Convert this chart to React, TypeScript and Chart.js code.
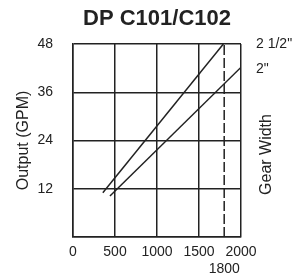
import { useEffect, useRef } from 'react';
import { Chart, registerables } from 'chart.js';

Chart.register(...registerables);

const TITLE = 'DP C101/C102';
const Y_TITLE = 'Output (GPM)';
const RIGHT_TITLE = 'Gear Width';

const xTicks = [0, 500, 1000, 1500, 2000];
const yTicks = [0, 12, 24, 36, 48];

const gearLabels = ['2 1/2"', '2"'];
const gearLabelY = [48, 41.8];

const gear25X = [355, 1790];
const gear25Y = [11.0, 48];
const gear2X = [440, 1995];
const gear2Y = [10.2, 42.1];

const limitRpm = 1800;
const limitLabel = '1800';
const limitY = [0, 48];

const INK = '#222';
const FONT = "'Liberation Sans', Arial, Helvetica, sans-serif";

const rightTitlePlugin = {
  id: 'rightTitle',
  afterDraw(chart: any) {
    const { ctx, chartArea } = chart;
    ctx.save();
    ctx.font = `16px ${FONT}`;
    ctx.fillStyle = INK;
    ctx.textAlign = 'center';
    ctx.textBaseline = 'middle';
    ctx.translate(chartArea.right + 26, (chartArea.top + chartArea.bottom) / 2 + 14);
    ctx.rotate(-Math.PI / 2);
    ctx.fillText(RIGHT_TITLE, 0, 0);
    ctx.restore();
  },
};

export default function App() {
  const ref = useRef<HTMLCanvasElement | null>(null);

  useEffect(() => {
    if (!ref.current) return;
    Chart.defaults.font.family = FONT;
    Chart.defaults.color = INK;

    const pts = (xs: number[], ys: number[]) => xs.map((x, i) => ({ x, y: ys[i] }));

    const chart = new Chart(ref.current, {
      type: 'scatter',
      data: {
        datasets: [
          {
            label: gearLabels[0],
            data: pts(gear25X, gear25Y),
            showLine: true,
            borderColor: INK,
            borderWidth: 1.5,
            pointRadius: 0,
          },
          {
            label: gearLabels[1],
            data: pts(gear2X, gear2Y),
            showLine: true,
            borderColor: INK,
            borderWidth: 1.5,
            pointRadius: 0,
          },
          {
            label: limitLabel,
            data: limitY.map((y) => ({ x: limitRpm, y })),
            showLine: true,
            borderColor: INK,
            borderWidth: 1.5,
            borderDash: [10, 3],
            pointRadius: 0,
          },
        ],
      },
      options: {
        animation: false,
        responsive: true,
        maintainAspectRatio: false,
        layout: { padding: { left: 10, right: 5, top: 0, bottom: 2 } },
        plugins: {
          legend: { display: false },
          tooltip: { enabled: false },
          title: {
            display: true,
            text: TITLE,
            fullSize: false,
            color: INK,
            font: { size: 22, weight: 'bold', family: FONT },
            padding: { top: 6, bottom: 11.6 },
          },
        },
        scales: {
          x: {
            type: 'linear',
            position: 'bottom',
            min: 0,
            max: 2000,
            afterBuildTicks: (axis: any) => {
              axis.ticks = xTicks.map((value) => ({ value }));
            },
            afterFit: (axis: any) => {
              axis.height = 24;
            },
            grid: { color: INK, lineWidth: 1.5, drawTicks: false },
            border: { color: INK, width: 1.5 },
            ticks: {
              font: { size: 14 },
              padding: 7,
              color: INK,
              maxRotation: 0,
              autoSkip: false,
              callback: (v: any) => String(v),
            },
          },
          x2: {
            type: 'linear',
            position: 'bottom',
            weight: 1,
            min: 0,
            max: 2000,
            afterBuildTicks: (axis: any) => {
              axis.ticks = [{ value: limitRpm }];
            },
            afterFit: (axis: any) => {
              axis.height = 17;
            },
            grid: { display: false, drawTicks: false },
            border: { display: false },
            ticks: {
              font: { size: 14 },
              padding: 0,
              color: INK,
              autoSkip: false,
              callback: () => limitLabel,
              maxRotation: 0,
            },
          },
          y: {
            type: 'linear',
            position: 'left',
            min: 0,
            max: 48,
            afterBuildTicks: (axis: any) => {
              axis.ticks = yTicks.map((value) => ({ value }));
            },
            afterFit: (axis: any) => {
              axis.width = 63;
            },
            grid: { color: INK, lineWidth: 1.5, drawTicks: false },
            border: { color: INK, width: 1.5 },
            ticks: {
              font: { size: 14 },
              padding: 20,
              color: INK,
              autoSkip: false,
              callback: (v: any) => (v === 0 ? '' : String(v)),
            },
            title: {
              display: true,
              text: Y_TITLE,
              color: INK,
              font: { size: 16 },
              padding: { top: 4, bottom: 4 },
            },
          },
          y2: {
            type: 'linear',
            position: 'right',
            min: 0,
            max: 48,
            afterBuildTicks: (axis: any) => {
              axis.ticks = gearLabelY.map((value) => ({ value }));
            },
            afterFit: (axis: any) => {
              axis.width = 51;
            },
            grid: { display: false, drawTicks: false },
            border: { display: false },
            ticks: {
              font: { size: 14 },
              padding: 15,
              color: INK,
              autoSkip: false,
              callback: (_v: any, i: number) => gearLabels[i],
            },
          },
        },
      },
      plugins: [rightTitlePlugin],
    });

    return () => chart.destroy();
  }, []);

  return (
    <div style={{ position: 'absolute', left: 0, top: 0, width: 297, height: 280 }}>
      <canvas ref={ref} />
    </div>
  );
}
